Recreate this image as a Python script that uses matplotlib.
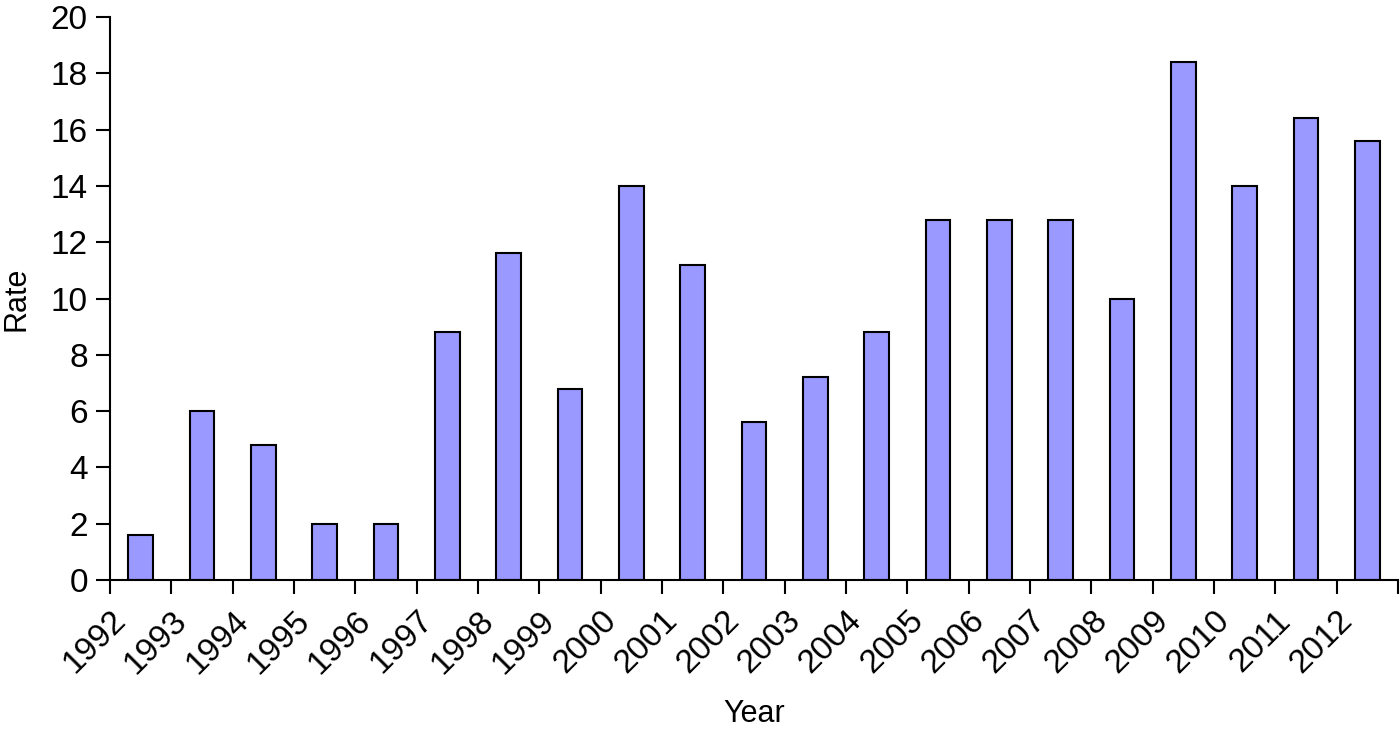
import numpy as np
import matplotlib.pyplot as plt

plt.rcParams['font.family'] = ['Liberation Sans', 'DejaVu Sans']

years = [str(y) for y in range(1992, 2013)]
rates = [1.6, 6.0, 4.8, 2.0, 2.0, 8.8, 11.6, 6.8, 14.0, 11.2, 5.6,
         7.2, 8.8, 12.8, 12.8, 12.8, 10.0, 18.4, 14.0, 16.4, 15.6]

fig = plt.figure(figsize=(14, 7.34), dpi=100)
ax = fig.add_axes([0.0786, 0.2098, 0.9200, 0.7670])

x = np.arange(len(years))
ax.bar(x + 0.5, rates, width=0.4, color='#9999FF', edgecolor='black', linewidth=1.5)

ax.set_xlim(0, len(years))
ax.set_ylim(0, 20)
ax.set_yticks(np.arange(0, 21, 2))
ax.tick_params(axis='y', labelsize=24, length=10, width=1.5, direction='out', pad=6)

ax.set_xticks(np.arange(len(years) + 1))
ax.set_xticklabels(years + [''])
ax.tick_params(axis='x', labelsize=24, length=10, width=1.5, direction='out', pad=8)
for lbl in ax.get_xticklabels():
    lbl.set_rotation(45)
    lbl.set_ha('right')
    lbl.set_rotation_mode('anchor')

for s in ['top', 'right']:
    ax.spines[s].set_visible(False)
for s in ['left', 'bottom']:
    ax.spines[s].set_linewidth(1.5)

ax.set_xlabel('Year', fontsize=22, labelpad=14)
ax.set_ylabel('Rate', fontsize=22, labelpad=14)

fig.savefig('out.png', dpi=100)
